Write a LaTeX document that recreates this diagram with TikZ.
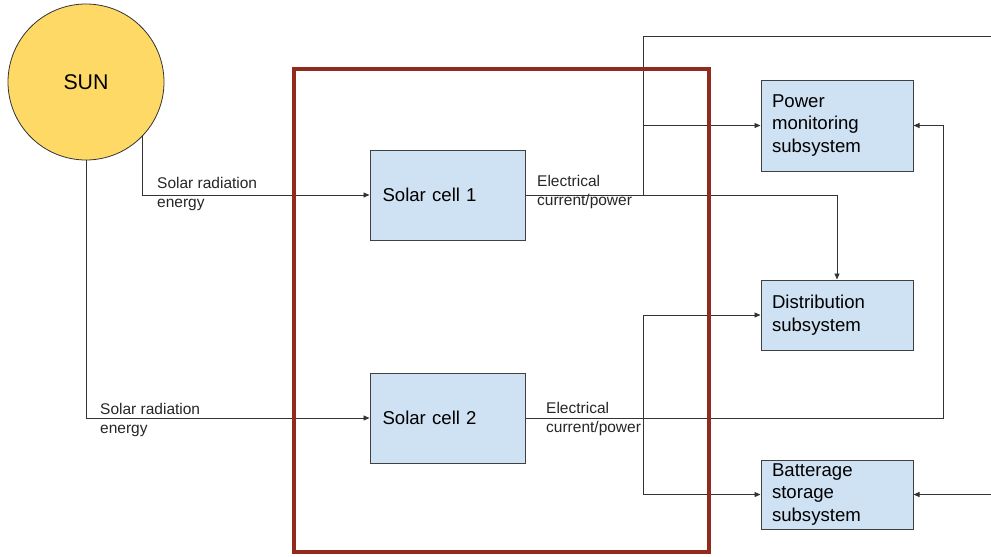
\documentclass[tikz,border=0pt]{standalone}
\usepackage{fontspec}
\setmainfont{Liberation Sans}
\usetikzlibrary{calc, arrows.meta}

\definecolor{cellblue}{HTML}{CFE2F3}
\definecolor{sunyellow}{HTML}{FFD966}
\definecolor{frameRed}{HTML}{902B1E}
\definecolor{boxline}{HTML}{404040}

\begin{document}
\begin{tikzpicture}[x=1pt, y=-1pt,
  unit/.style = {rectangle, draw = boxline, fill = cellblue, line width = 1pt, text width = 130, inner xsep = 11, inner ysep = 0, align = left, font = \fontsize{18.6}{22.5}\selectfont},
  lbl/.style = {inner sep = 0, anchor = west, align = left, text = black!85, font = \fontsize{15.5}{19}\selectfont},
  wire/.style = {draw = black!80, line width = 0.9pt, -{Triangle[length = 6pt, width = 5pt]}}]
\useasboundingbox (0,0) rectangle (991,557);
\def\boxH{90}

\node[circle, draw = black!80, fill = sunyellow, line width = 0.8pt, minimum size = 156, inner sep = 0, font = \fontsize{21.3}{24}\selectfont] (sun) at (86,82) {SUN};
\node[unit, minimum width = 155, minimum height = \boxH] (cell1) at (447.5,195) {Solar cell 1};
\node[unit, minimum width = 155, minimum height = \boxH] (cell2) at (447.5,418) {Solar cell 2};
\node[unit, minimum width = 152, minimum height = 91] (pm) at (837,125.5) {Power\\monitoring\\subsystem};
\node[unit, minimum width = 152, minimum height = 70] (dist) at (837,315) {Distribution\\subsystem};
\node[unit, minimum width = 152, minimum height = 69] (batt) at (837,494.5) {Batterage\\storage\\subsystem};

\coordinate (busL) at (643,0);
\coordinate (busR) at (943,0);
\coordinate (outTop) at (991,36);
\coordinate (inBot) at (991,494.5);

%label
\node[lbl] (rad1) at (157,194) {Solar radiation\\energy};
\node[lbl] (rad2) at (100,419.5) {Solar radiation\\energy};
\node[lbl] (elec1) at (537,192) {Electrical\\current/power};
\node[lbl] (elec2) at (546,418.5) {Electrical\\current/power};

%draw edges
\draw[wire] (sun.-44) |- (cell1.west);
\draw[wire] (sun.south) |- (cell2.west);
\draw[wire, -] (cell1.east) -| (busL |- outTop) -- (outTop);
\draw[wire] (cell1.east) -| (busL |- pm.west) -- (pm.west);
\draw[wire] (cell1.east) -| (dist.north);
\draw[wire] (cell2.east) -| (busR |- pm.east) -- (pm.east);
\draw[wire] (cell2.east) -| (busL |- dist.west) -- (dist.west);
\draw[wire] (cell2.east) -| (busL |- batt.west) -- (batt.west);
\draw[wire] (inBot) -- (batt.east);

%frame
\draw[frameRed, line width = 4pt] (294,69) rectangle (709,552);

\end{tikzpicture}
\end{document}
